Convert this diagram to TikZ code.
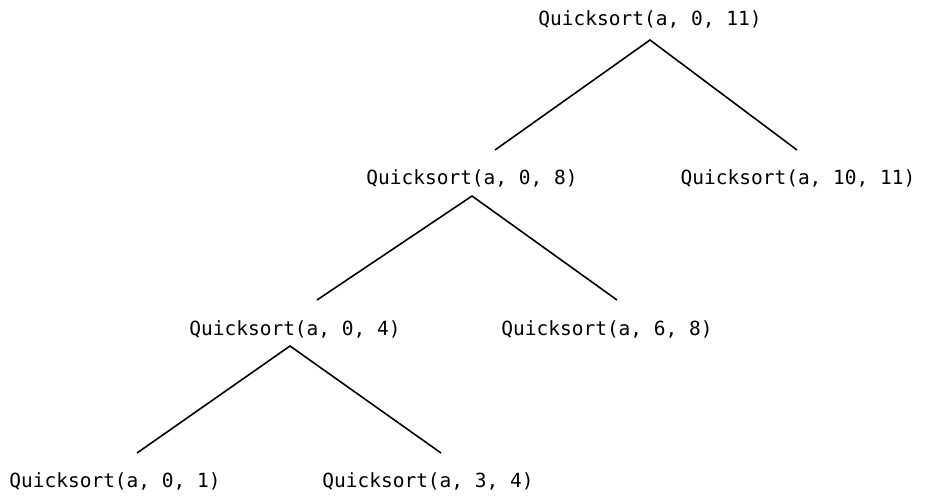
\documentclass[tikz,border=0pt]{standalone}
\usepackage{fontspec}
\setmonofont{DejaVu Sans Mono}
\begin{document}
\begin{tikzpicture}[x=1pt,y=-1pt,
  call/.style={font=\ttfamily\fontsize{19.5}{22}\selectfont, inner sep=0pt, anchor=center},
  edge/.style={line width=1.6pt, black}]
\useasboundingbox (0,0) rectangle (925,497);
\node[call] (r) at (650,19) {Quicksort(a, 0, 11)};
\node[call] (a) at (472,178) {Quicksort(a, 0, 8)};
\node[call] (b) at (798,178) {Quicksort(a, 10, 11)};
\node[call] (c) at (295,329) {Quicksort(a, 0, 4)};
\node[call] (d) at (607,329) {Quicksort(a, 6, 8)};
\node[call] (e) at (115,481) {Quicksort(a, 0, 1)};
\node[call] (f) at (428,481) {Quicksort(a, 3, 4)};
\coordinate (rt) at (650,40);
\coordinate (ae) at (495,150);
\coordinate (be) at (797,150);
\coordinate (at) at (472,196);
\coordinate (ce) at (317,300);
\coordinate (de) at (617,300);
\coordinate (ct) at (290,346);
\coordinate (ee) at (137,453);
\coordinate (fe) at (441,453);
\draw[edge] (ae) -- (rt) -- (be);
\draw[edge] (ce) -- (at) -- (de);
\draw[edge] (ee) -- (ct) -- (fe);
\end{tikzpicture}
\end{document}
